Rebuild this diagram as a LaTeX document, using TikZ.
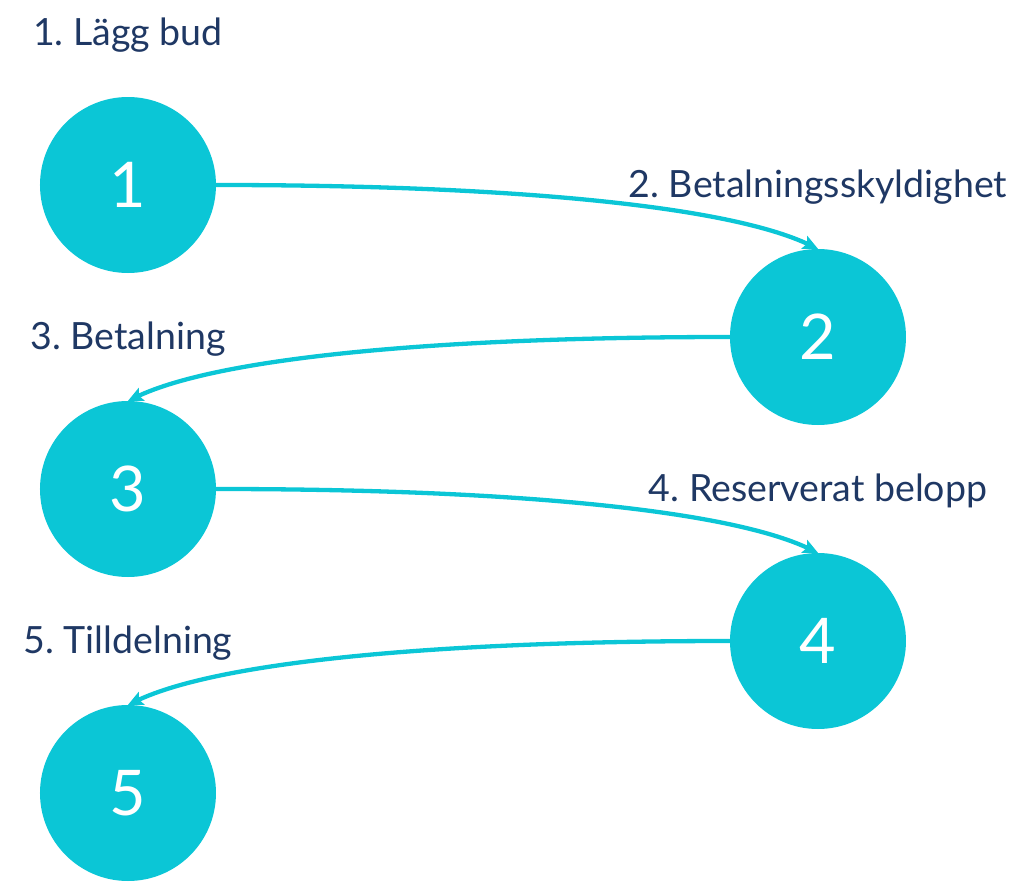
\documentclass[tikz,border=0pt]{standalone}
\usepackage{fontspec}
\setmainfont{Lato}
\frenchspacing
\usetikzlibrary{arrows.meta,positioning}
\definecolor{stepcyan}{HTML}{0BC6D6}
\definecolor{stepnavy}{HTML}{1F3864}
\tikzset{
  stepnode/.style={
    % The shape:
    circle,minimum size=176pt,inner sep=0pt,
    % The filling:
    fill=stepcyan,
    % The number:
    text=white,font=\fontsize{63}{63}\selectfont}}
\tikzset{
	steplabel/.style={
		% The text only, no border
		inner sep=0pt,text=stepnavy,
		font=\fontsize{37.5}{40}\selectfont},
	flow/.style={
		line width=4.3pt,draw=stepcyan,
		-{Stealth[length=15pt,width=14pt,inset=3pt]}},
	% Curves to the right column and back
	swing right/.style={out=0,in=155,out distance=300pt,in distance=100pt},
	swing left/.style={out=180,in=25,out distance=300pt,in distance=100pt}}

\begin{document}
\begin{tikzpicture}
	\matrix[column sep=514pt,row sep=-24pt] (steps) {
		\node[stepnode] (c1) {1}; & \\
		& \node[stepnode] (c2) {2}; \\
		\node[stepnode] (c3) {3}; & \\
		& \node[stepnode] (c4) {4}; \\
		\node[stepnode] (c5) {5}; & \\
	};
	\useasboundingbox ([shift={(-128pt,185pt)}]c1.center) rectangle ([shift={(903pt,-695pt)}]c1.center);
	% Labels over the circles
	\node[steplabel,above=51pt of c1,anchor=base] (t1) {1. Lägg bud};
	\node[steplabel,above=51pt of c2,anchor=base] (t2) {2. Betalningsskyldighet};
	\node[steplabel,above=51pt of c3,anchor=base] (t3) {3. Betalning};
	\node[steplabel,above=51pt of c4,anchor=base] (t4) {4. Reserverat belopp};
	\node[steplabel,above=51pt of c5,anchor=base] (t5) {5. Tilldelning};
	% Lines from step to step
	\draw[flow] (c1.east) to[swing right] (c2.north);
	\draw[flow] (c2.west) to[swing left] (c3.north);
	\draw[flow] (c3.east) to[swing right] (c4.north);
	\draw[flow] (c4.west) to[swing left] (c5.north);
\end{tikzpicture}
\end{document}
